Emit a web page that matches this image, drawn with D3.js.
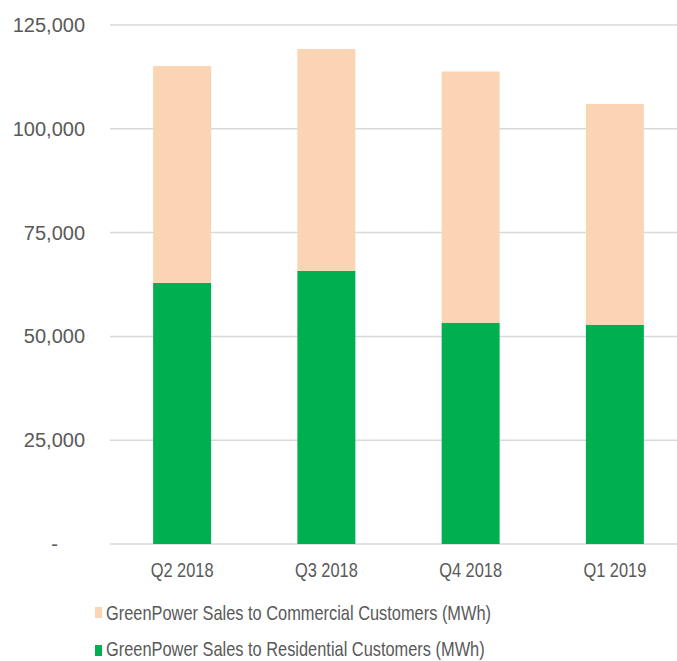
<!DOCTYPE html>
<html>
<head>
<meta charset="utf-8">
<script src="https://cdn.jsdelivr.net/npm/d3@7"></script>
<style>
  body { margin: 0; background: #fff; overflow: hidden; }
  svg { display: block; }
  text { font-family: "Liberation Sans", Arial, sans-serif; fill: #595959; }
</style>
</head>
<body>
<svg class="chart"></svg>
<script>
var quarters = ["Q2 2018", "Q3 2018", "Q4 2018", "Q1 2019"];
var residential = [62900, 65800, 53300, 52800];
var commercial = [52200, 53400, 60500, 53200];
var yTicks = [0, 25000, 50000, 75000, 100000, 125000];
var seriesNames = [
    "GreenPower Sales to Commercial Customers (MWh)",
    "GreenPower Sales to Residential Customers (MWh)"
];

var W = 677, H = 661;
var plot = {left: 110, right: 687, top: 25, bottom: 544};
var squish = 0.82;

var svg = d3.select(".chart")
    .attr("width", W)
    .attr("height", H);

var x = d3.scaleBand()
    .domain(quarters)
    .range([plot.left, plot.right])
    .paddingInner(0.598)
    .paddingOuter(0.299);

var y = d3.scaleLinear()
    .domain([0, 125000])
    .range([plot.bottom, plot.top]);

// gridlines
svg.append("g")
    .selectAll("line")
    .data(yTicks)
    .enter()
    .append("line")
    .attr("x1", plot.left)
    .attr("x2", W)
    .attr("y1", function (d) { return y(d); })
    .attr("y2", function (d) { return y(d); })
    .attr("stroke", "#d9d9d9")
    .attr("stroke-width", 1.5);

// y labels
svg.append("g")
    .selectAll("text")
    .data(yTicks)
    .enter()
    .append("text")
    .attr("x", function (d) { return d === 0 ? 58 : 85; })
    .attr("y", function (d) { return y(d); })
    .attr("dy", "0.35em")
    .attr("text-anchor", "end")
    .style("font-size", "20px")
    .text(function (d) { return d === 0 ? "-" : d3.format(",")(d); });

// stacked bars
var rows = quarters.map(function (q, i) {
    return {q: q, res: residential[i], com: commercial[i]};
});

svg.append("g")
    .selectAll("rect")
    .data(rows)
    .enter()
    .append("rect")
    .attr("x", function (d) { return x(d.q); })
    .attr("width", x.bandwidth())
    .attr("y", function (d) { return y(d.res); })
    .attr("height", function (d) { return y(0) - y(d.res); })
    .attr("fill", "#00b050");

svg.append("g")
    .selectAll("rect")
    .data(rows)
    .enter()
    .append("rect")
    .attr("x", function (d) { return x(d.q); })
    .attr("width", x.bandwidth())
    .attr("y", function (d) { return y(d.res + d.com); })
    .attr("height", function (d) { return y(d.res) - y(d.res + d.com); })
    .attr("fill", "#fbd4b4");

// x labels
svg.append("g")
    .selectAll("text")
    .data(quarters)
    .enter()
    .append("text")
    .attr("transform", function (d) {
        return "translate(" + (x(d) + x.bandwidth() / 2) + ",577) scale(" + squish + ",1)";
    })
    .attr("text-anchor", "middle")
    .style("font-size", "20px")
    .text(function (d) { return d; });

// legend
var legendColors = ["#fbd4b4", "#00b050"];
var legend = svg.append("g")
    .selectAll("g")
    .data(seriesNames)
    .enter()
    .append("g")
    .attr("transform", function (d, i) { return "translate(95," + (607 + i * 38) + ")"; });

legend.append("rect")
    .attr("width", 7)
    .attr("height", 11)
    .attr("fill", function (d, i) { return legendColors[i]; });

legend.append("text")
    .attr("transform", function (d, i) {
        return "translate(11," + (13 - i * 2) + ") scale(" + squish + ",1)";
    })
    .style("font-size", "20px")
    .text(function (d) { return d; });
</script>
</body>
</html>
